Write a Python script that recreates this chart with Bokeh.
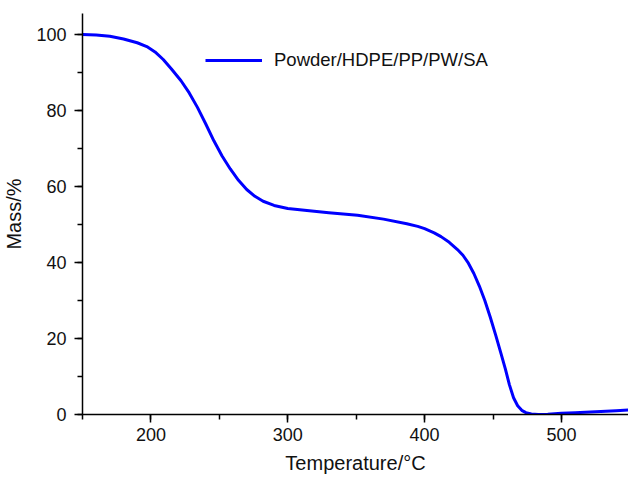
from bokeh.plotting import figure
from bokeh.models import SingleIntervalTicker, Range1d, Legend, LegendItem
from bokeh.embed import file_html
from bokeh.resources import INLINE

temperature = [150, 160, 170, 180, 190, 197, 203, 209, 215, 222, 228, 234, 240, 246, 252, 258, 264,
               270, 276, 282, 290, 300, 314, 330, 351, 370, 387, 395, 400, 407, 412, 418, 424,
               428, 432, 436, 440, 444, 448, 452, 456, 459, 462, 465, 468, 471, 474, 478, 483,
               490, 500, 510, 525, 540, 550]
mass = [100.0, 99.85, 99.5, 98.8, 97.8, 96.8, 95.4, 93.4, 90.9, 87.8, 84.6, 80.8, 76.5, 72.0, 68.0, 64.6, 61.6,
        59.2, 57.4, 56.1, 55.0, 54.2, 53.7, 53.1, 52.4, 51.4, 50.2, 49.5, 48.9, 47.8, 46.8, 45.3, 43.4,
        41.9, 39.8, 37.1, 33.8, 30.0, 25.6, 20.8, 15.8, 12.0, 7.8, 4.4, 2.3, 1.1, 0.5, 0.15, 0.0,
        0.05, 0.3, 0.45, 0.7, 1.0, 1.2]
series_name = "Powder/HDPE/PP/PW/SA"

FONT = "Liberation Sans"

p = figure(width=628, height=480, output_backend="svg", toolbar_location=None,
           x_range=Range1d(150, 549), y_range=Range1d(0, 105.5),
           min_border_left=82, min_border_right=0, min_border_top=13, min_border_bottom=66)
p.outline_line_color = None
p.xgrid.visible = False
p.ygrid.visible = False
p.background_fill_color = "white"
p.border_fill_color = "white"

r = p.line(temperature, mass, line_color="#0000FF", line_width=3, line_join="round")

for ax, interval in ((p.xaxis[0], 100), (p.yaxis[0], 20)):
    ax.ticker = SingleIntervalTicker(interval=interval, num_minor_ticks=2)
    ax.axis_line_color = "black"
    ax.axis_line_width = 1.5
    ax.major_tick_line_color = "black"
    ax.major_tick_line_width = 1.5
    ax.minor_tick_line_color = "black"
    ax.minor_tick_line_width = 1.5
    ax.major_tick_in = 0
    ax.major_tick_out = 8
    ax.minor_tick_in = 0
    ax.minor_tick_out = 5
    ax.major_label_text_font = FONT
    ax.major_label_text_font_size = "18px"
    ax.major_label_text_color = "#111111"
    ax.axis_label_text_font = FONT
    ax.axis_label_text_font_size = "20px"
    ax.axis_label_text_font_style = "normal"
    ax.axis_label_text_color = "#111111"

p.xaxis.axis_label = "Temperature/°C"
p.yaxis.axis_label = "Mass/%"
p.xaxis.major_label_standoff = 5
p.yaxis.major_label_standoff = 8
p.xaxis.axis_label_standoff = 8
p.yaxis.axis_label_standoff = 8

legend = Legend(items=[LegendItem(label=series_name, renderers=[r])],
                location=(123, 343), border_line_color=None, background_fill_alpha=0,
                padding=0, margin=0, glyph_width=57, glyph_height=20, label_height=20,
                label_standoff=12, label_text_font=FONT, label_text_font_size="18.5px",
                label_text_color="#111111")
p.add_layout(legend, "center")

open("out.html", "w").write(file_html(p, INLINE))
